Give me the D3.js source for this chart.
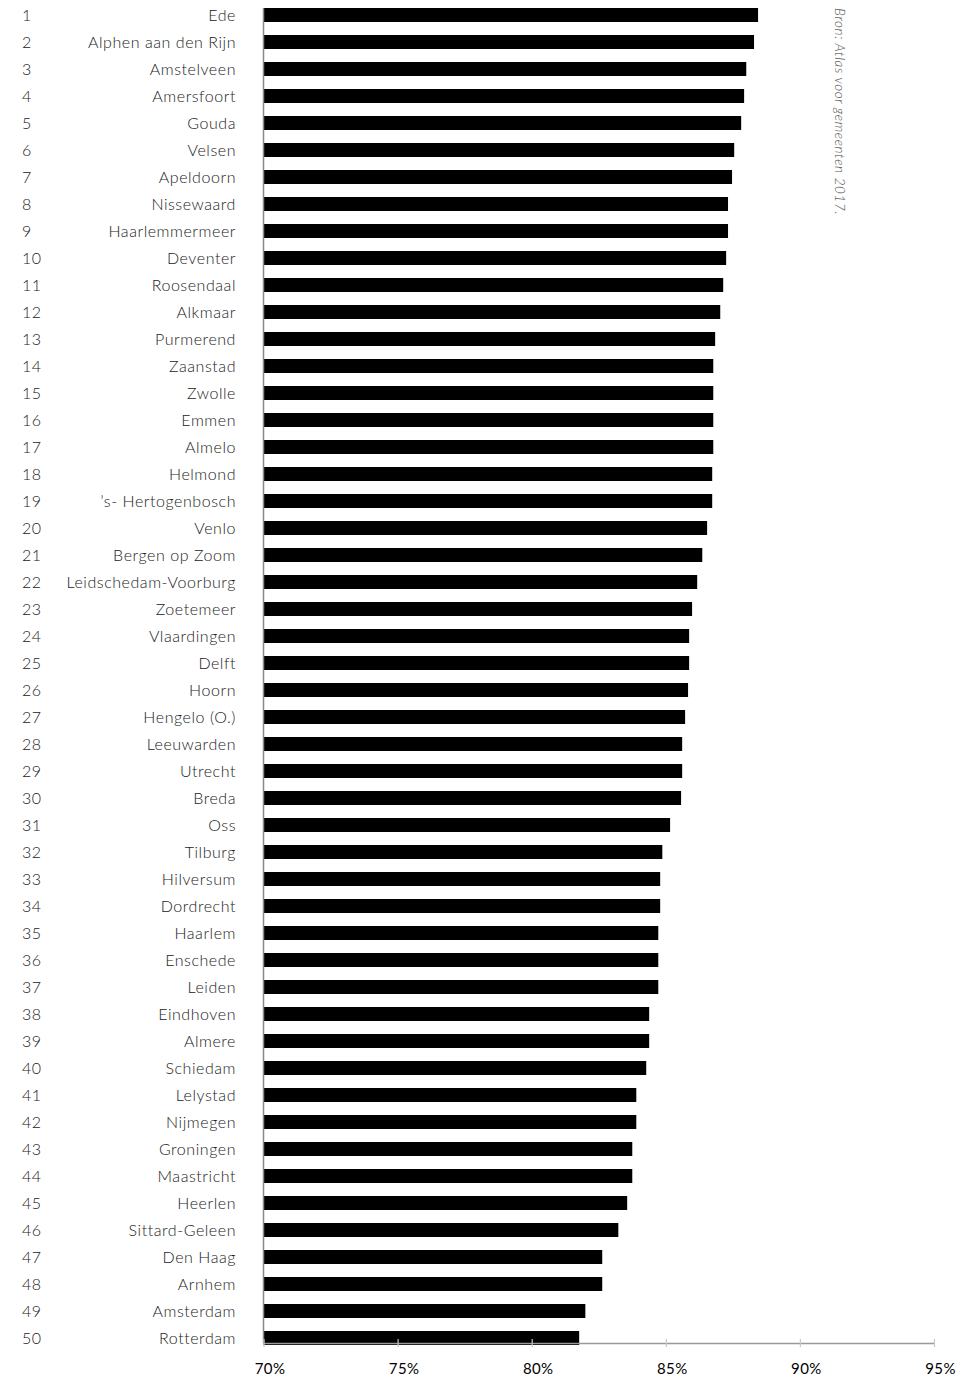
<!DOCTYPE html>
<html>
<head>
<meta charset="utf-8">
<script src="https://cdn.jsdelivr.net/npm/d3@7"></script>
<style>
  html, body { margin: 0; padding: 0; background: #fff; }
  svg { display: block; }
  text { font-family: Lato, "Open Sans", "DejaVu Sans", sans-serif; }
</style>
</head>
<body>
<svg id="visualization" width="975" height="1378"></svg>
<script>
const cities = [
    "Ede", "Alphen aan den Rijn", "Amstelveen", "Amersfoort", "Gouda",
    "Velsen", "Apeldoorn", "Nissewaard", "Haarlemmermeer", "Deventer",
    "Roosendaal", "Alkmaar", "Purmerend", "Zaanstad", "Zwolle",
    "Emmen", "Almelo", "Helmond", "’s- Hertogenbosch", "Venlo",
    "Bergen op Zoom", "Leidschedam-Voorburg", "Zoetemeer", "Vlaardingen", "Delft",
    "Hoorn", "Hengelo (O.)", "Leeuwarden", "Utrecht", "Breda",
    "Oss", "Tilburg", "Hilversum", "Dordrecht", "Haarlem",
    "Enschede", "Leiden", "Eindhoven", "Almere", "Schiedam",
    "Lelystad", "Nijmegen", "Groningen", "Maastricht", "Heerlen",
    "Sittard-Geleen", "Den Haag", "Arnhem", "Amsterdam", "Rotterdam"
];

const values = [
    88.44, 88.29, 88.00, 87.92, 87.81,
    87.55, 87.47, 87.32, 87.32, 87.25,
    87.14, 87.03, 86.84, 86.77, 86.77,
    86.77, 86.77, 86.73, 86.73, 86.54,
    86.36, 86.17, 85.98, 85.87, 85.87,
    85.83, 85.72, 85.61, 85.61, 85.57,
    85.16, 84.87, 84.79, 84.79, 84.72,
    84.72, 84.72, 84.38, 84.38, 84.27,
    83.90, 83.90, 83.75, 83.75, 83.56,
    83.23, 82.63, 82.63, 82.00, 81.77
];

const tickValues = [70, 75, 80, 85, 90, 95];
const tickLabels = ["70%", "75%", "80%", "85%", "90%", "95%"];

const source = "Bron: Atlas voor gemeenten 2017.";

const data = cities.map((c, i) => ({ rank: i + 1, city: c, value: values[i] }));

const svg = d3.select("#visualization");

const x = d3.scaleLinear().domain([70, 95]).range([263.5, 934]);
const y = d3.scaleBand()
    .domain(cities)
    .range([1.5, 1351.5])
    .paddingInner(13 / 27)
    .paddingOuter(13 / 54);

const axisY = 1343;

// bars
svg.append("g")
    .selectAll("rect")
    .data(data)
    .join("rect")
    .attr("x", x(70))
    .attr("y", d => y(d.city))
    .attr("width", d => x(d.value) - x(70))
    .attr("height", y.bandwidth())
    .attr("fill", "#000");

// vertical axis line
svg.append("line")
    .attr("x1", x(70)).attr("x2", x(70))
    .attr("y1", y(cities[0])).attr("y2", axisY)
    .attr("stroke", "#888")
    .attr("stroke-width", 1.5);

// x axis
const xAxis = svg.append("g")
    .attr("transform", `translate(0, ${axisY})`)
    .call(d3.axisBottom(x)
        .tickValues(tickValues)
        .tickFormat((d, i) => tickLabels[i])
        .tickSize(4)
        .tickSizeOuter(0));

xAxis.select(".domain").attr("stroke", "#999").attr("stroke-width", 1.5);
xAxis.selectAll(".tick line").attr("stroke", "#c8c8c8").attr("y1", -4).attr("stroke-width", 1.2);
xAxis.selectAll(".tick text")
    .attr("y", 31)
    .attr("dy", 0)
    .attr("dx", 6)
    .attr("fill", "#000")
    .attr("font-size", 15)
    .attr("font-weight", 400)
    .attr("letter-spacing", 0.4)
    .attr("font-family", "Lato, 'Open Sans', sans-serif");

// rank numbers
svg.append("g")
    .selectAll("text")
    .data(data)
    .join("text")
    .attr("x", 22)
    .attr("y", d => y(d.city) + y.bandwidth() / 2)
    .attr("dy", "0.36em")
    .attr("font-size", 16)
    .attr("font-weight", 300)
    .attr("letter-spacing", 0.5)
    .attr("fill", "#222")
    .text(d => d.rank);

// city names
svg.append("g")
    .selectAll("text")
    .data(data)
    .join("text")
    .attr("x", 236)
    .attr("y", d => y(d.city) + y.bandwidth() / 2)
    .attr("dy", "0.36em")
    .attr("text-anchor", "end")
    .attr("font-size", 16)
    .attr("font-weight", 300)
    .attr("letter-spacing", 0.55)
    .attr("fill", "#222")
    .text(d => d.city);

// source
svg.append("text")
    .attr("transform", "translate(835, 8) rotate(90)")
    .attr("font-size", 13.5)
    .attr("font-style", "italic")
    .attr("font-weight", 300)
    .attr("letter-spacing", 0.6)
    .attr("fill", "#555")
    .text(source);
</script>
</body>
</html>
